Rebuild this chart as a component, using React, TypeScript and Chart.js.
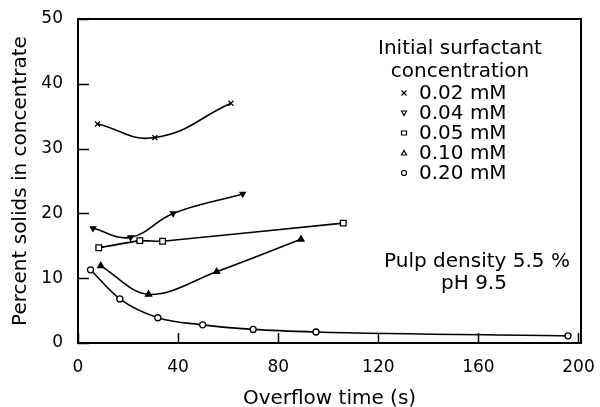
import React, { useEffect, useRef } from 'react';
import { Chart, registerables } from 'chart.js';

Chart.register(...registerables);

// ---- data ----
const xTickValues = [0, 40, 80, 120, 160, 200];
const yTickValues = [0, 10, 20, 30, 40, 50];
const seriesLabels = ['0.02 mM', '0.04 mM', '0.05 mM', '0.10 mM', '0.20 mM'];

const time002 = [7.8, 30.7, 61.1];
const solids002 = [33.8, 31.7, 37.0];

const time004 = [6.0, 21.0, 38.0, 65.8];
const solids004 = [17.7, 16.3, 20.0, 23.0];

const time005 = [8.3, 24.7, 33.8, 106.0];
const solids005 = [14.7, 15.8, 15.7, 18.5];

const time010 = [9.1, 28.2, 55.4, 89.1];
const solids010 = [11.9, 7.5, 11.0, 16.0];

const time020 = [5.0, 16.7, 31.9, 49.8, 70.0, 95.1, 195.8];
const solids020 = [11.3, 6.8, 3.9, 2.8, 2.1, 1.7, 1.1];

const legendTitle = ['Initial surfactant', 'concentration'];
const noteLines = ['Pulp density 5.5 %', 'pH 9.5'];

const FONT = '"DejaVu Sans", "Liberation Sans", sans-serif';

const pts = (xs: number[], ys: number[]) => xs.map((x, i) => ({ x, y: ys[i] }));

function drawMarker(ctx: CanvasRenderingContext2D, kind: number, x: number, y: number, r: number) {
  ctx.save();
  ctx.strokeStyle = '#000';
  ctx.fillStyle = '#000';
  ctx.lineWidth = 1.2;
  ctx.beginPath();
  if (kind === 0) {
    ctx.moveTo(x - r, y - r); ctx.lineTo(x + r, y + r);
    ctx.moveTo(x + r, y - r); ctx.lineTo(x - r, y + r);
    ctx.stroke();
  } else if (kind === 1) {
    ctx.moveTo(x - r, y - r * 0.8); ctx.lineTo(x + r, y - r * 0.8); ctx.lineTo(x, y + r);
    ctx.closePath();
    ctx.fillStyle = '#fff'; ctx.fill(); ctx.stroke();
  } else if (kind === 2) {
    ctx.rect(x - r, y - r * 0.8, 2 * r, 1.6 * r);
    ctx.fillStyle = '#fff'; ctx.fill(); ctx.stroke();
  } else if (kind === 3) {
    ctx.moveTo(x - r, y + r * 0.8); ctx.lineTo(x + r, y + r * 0.8); ctx.lineTo(x, y - r);
    ctx.closePath();
    ctx.fillStyle = '#fff'; ctx.fill(); ctx.stroke();
  } else {
    ctx.arc(x, y, r, 0, Math.PI * 2);
    ctx.fillStyle = '#fff'; ctx.fill(); ctx.stroke();
  }
  ctx.restore();
}

const framePlugin = {
  id: 'frameAndNotes',
  afterDraw(chart: any) {
    const { ctx, chartArea: a, scales } = chart;
    ctx.save();
    ctx.strokeStyle = '#000';
    ctx.lineWidth = 2;
    ctx.strokeRect(a.left, a.top, a.right - a.left, a.bottom - a.top);
    ctx.lineWidth = 1.5;
    ctx.beginPath();
    for (const v of yTickValues) {
      const py = Math.round(scales.y.getPixelForValue(v)) + 0.5;
      ctx.moveTo(a.left, py); ctx.lineTo(a.left + 11, py);
    }
    for (const v of xTickValues) {
      const px = Math.round(scales.x.getPixelForValue(v)) + 0.5;
      ctx.moveTo(px, a.bottom); ctx.lineTo(px, a.bottom - 10);
    }
    ctx.stroke();

    ctx.fillStyle = '#000';
    ctx.font = `20px ${FONT}`;
    ctx.textBaseline = 'middle';
    ctx.textAlign = 'center';
    ctx.fillText(legendTitle[0], 460, 49);
    ctx.fillText(legendTitle[1], 460, 72);
    ctx.textAlign = 'left';
    seriesLabels.forEach((lab, i) => {
      const yy = 94 + i * 20;
      drawMarker(ctx, i, 404, yy - 1, 2.5);
      ctx.fillText(lab, 419, yy);
    });
    ctx.textAlign = 'center';
    ctx.fillText(noteLines[0], 477, 262);
    ctx.fillText(noteLines[1], 474, 284);
    ctx.restore();
  },
};

export default function App() {
  const ref = useRef<HTMLCanvasElement | null>(null);
  useEffect(() => {
    if (!ref.current) return;
    const line = { borderColor: '#000', borderWidth: 1.6, pointBorderColor: '#000', pointBorderWidth: 1.3, showLine: true };
    const chart = new Chart(ref.current, {
      type: 'scatter',
      data: {
        datasets: [
          { ...line, label: seriesLabels[0], data: pts(time002, solids002), tension: 0.45, pointStyle: 'crossRot', pointRadius: 3.5, pointBackgroundColor: '#000' },
          { ...line, label: seriesLabels[1], data: pts(time004, solids004), tension: 0.4, pointStyle: 'triangle', rotation: 180, pointRadius: 3, pointBackgroundColor: '#000' },
          { ...line, label: seriesLabels[2], data: pts(time005, solids005), tension: 0.1, pointStyle: 'rect', pointRadius: 4, pointBackgroundColor: '#fff' },
          { ...line, label: seriesLabels[3], data: pts(time010, solids010), tension: 0.35, pointStyle: 'triangle', pointRadius: 3.5, pointBackgroundColor: '#000' },
          { ...line, label: seriesLabels[4], data: pts(time020, solids020), cubicInterpolationMode: 'monotone', pointStyle: 'circle', pointRadius: 3, pointBackgroundColor: '#fff' },
        ] as any,
      },
      options: {
        animation: false,
        responsive: false,
        layout: { padding: { top: 19, right: 19, left: 0, bottom: 0 } },
        plugins: { legend: { display: false }, tooltip: { enabled: false } },
        scales: {
          x: {
            type: 'linear',
            min: 0,
            max: 201,
            afterBuildTicks: (s: any) => { s.ticks = xTickValues.map((v) => ({ value: v })); },
            afterFit: (s: any) => { s.height = 64; s.paddingLeft = 0; s.paddingRight = 0; },
            grid: { display: false, drawTicks: false },
            border: { display: false },
            ticks: { color: '#000', padding: 14, font: { family: FONT, size: 17 }, maxRotation: 0 },
            title: { display: true, text: 'Overflow time (s)', color: '#000', font: { family: FONT, size: 20, lineHeight: 1 }, padding: { top: 0, bottom: -2 } },
          },
          y: {
            type: 'linear',
            min: 0,
            max: 50,
            afterBuildTicks: (s: any) => { s.ticks = yTickValues.map((v) => ({ value: v })); },
            afterFit: (s: any) => { s.width = 78; s.paddingTop = 0; s.paddingBottom = 0; },
            grid: { display: false, drawTicks: false },
            border: { display: false },
            ticks: { color: '#000', padding: 15, font: { family: FONT, size: 17 } },
            title: { display: true, text: 'Percent solids in concentrate', color: '#000', font: { family: FONT, size: 20, lineHeight: 1 }, padding: { top: 11, bottom: 0 } },
          },
        },
      } as any,
      plugins: [framePlugin],
    });
    return () => chart.destroy();
  }, []);
  return (
    <div style={{ position: 'fixed', left: 0, top: 0, width: 600, height: 407, background: '#fff' }}>
      <canvas ref={ref} width={600} height={407} style={{ display: 'block' }} />
    </div>
  );
}
